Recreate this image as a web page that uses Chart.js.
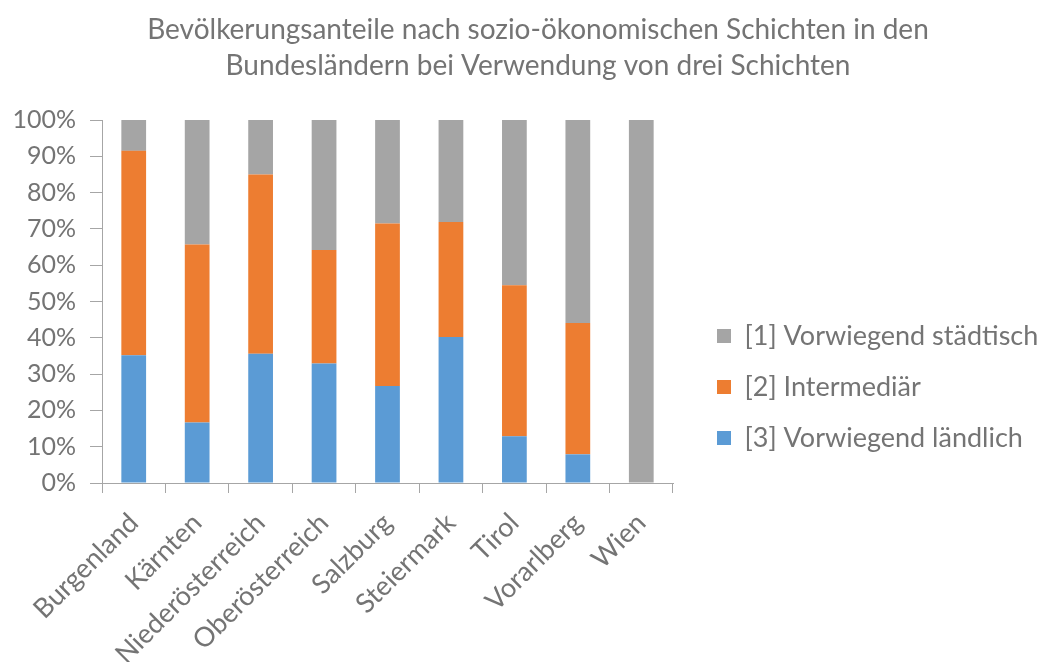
<!DOCTYPE html>
<html><head><meta charset="utf-8">
<script src="https://cdn.jsdelivr.net/npm/chart.js@4.4.1/dist/chart.umd.min.js"></script>
<style>html,body{margin:0;padding:0;background:#fff}#wrap{width:1043px;height:662px}</style>
</head><body><div id="wrap"><canvas id="c" width="1043" height="662"></canvas></div>
<script>
const categories = ['Burgenland','Kärnten','Niederösterreich','Oberösterreich','Salzburg','Steiermark','Tirol','Vorarlberg','Wien'];
const laendlich = [35.2, 16.7, 35.6, 32.9, 26.7, 40.2, 12.9, 7.9, 0];
const intermediaer = [56.3, 49.0, 49.4, 31.3, 44.8, 31.7, 41.6, 36.2, 0];
const staedtisch = [8.5, 34.3, 15.0, 35.8, 28.5, 28.1, 45.5, 55.9, 100];
const yTicks = [0,10,20,30,40,50,60,70,80,90,100];
const titleLines = ['Bevölkerungsanteile nach sozio-ökonomischen Schichten in den','Bundesländern bei Verwendung von drei Schichten'];

const TXT = '#747474';
const AX = '#a6a6a6';
const FONT = 'Lato';

const legendPlace = {
  id: 'legendPlace',
  beforeLayout(chart) {
    const lg = chart.legend;
    if (lg && !lg._patched) {
      const orig = lg.fit;
      lg.fit = function () { orig.call(this); this.width = 370; };
      lg._patched = true;
    }
  },
  afterLayout(chart) {
    const lg = chart.legend;
    if (lg) {
      const dx = 693 - lg.left;
      lg.left += dx; lg.right += dx;
      const h = lg.bottom - lg.top;
      const mid = 387;
      lg.top = mid - h / 2; lg.bottom = mid + h / 2;
    }
    const t = chart.titleBlock;
    if (t) { t.left += 16.5; t.right += 16.5; }
  }
};

new Chart(document.getElementById('c'), {
  type: 'bar',
  data: {
    labels: categories,
    datasets: [
      { label: '[3] Vorwiegend ländlich', data: laendlich, backgroundColor: '#5b9bd5' },
      { label: '[2] Intermediär', data: intermediaer, backgroundColor: '#ed7d31' },
      { label: '[1] Vorwiegend städtisch', data: staedtisch, backgroundColor: '#a5a5a5' }
    ]
  },
  plugins: [legendPlace],
  options: {
    responsive: false,
    animation: false,
    layout: { padding: { left: 0, right: 0, top: 12, bottom: 0 } },
    datasets: { bar: { barPercentage: 0.39, categoryPercentage: 1.0, borderWidth: 0 } },
    plugins: {
      title: {
        display: true,
        text: titleLines,
        color: TXT,
        font: { family: FONT, size: 28, weight: 'normal', lineHeight: 1.286 },
        padding: { top: 0, bottom: 36 }
      },
      legend: {
        position: 'right',
        reverse: true,
        labels: {
          color: TXT,
          font: { family: FONT, size: 27 },
          boxWidth: 14, boxHeight: 14,
          padding: 24
        }
      },
      tooltip: { enabled: false }
    },
    scales: {
      x: {
        stacked: true,
        grid: { display: true, drawOnChartArea: false, drawTicks: true, tickLength: 10, color: AX, offset: true },
        border: { display: true, color: AX, width: 1 },
        ticks: { color: TXT, font: { family: FONT, size: 27 }, minRotation: 45, maxRotation: 45, padding: 14, autoSkip: false },
        afterFit(s) { s.height = 179; }
      },
      y: {
        stacked: true,
        min: 0, max: 100,
        afterBuildTicks(s) { s.ticks = yTicks.map(v => ({ value: v })); },
        grid: { display: true, drawOnChartArea: false, drawTicks: true, tickLength: 12, color: AX },
        border: { display: true, color: AX, width: 1 },
        ticks: { color: TXT, font: { family: FONT, size: 25 }, padding: 14, callback: v => v + '%' },
        afterFit(s) { s.width = 102; }
      }
    }
  }
});
</script></body></html>
